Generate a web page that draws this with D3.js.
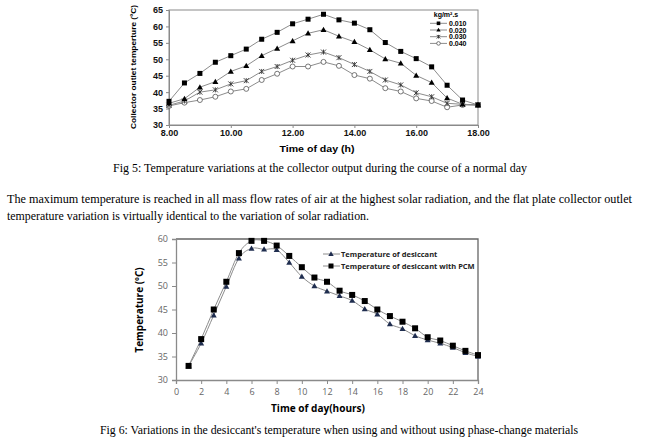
<!DOCTYPE html>
<html>
<head>
<meta charset="utf-8">
<script src="https://cdn.jsdelivr.net/npm/d3@7"></script>
<style>
  body { margin: 0; background: #fff; }
  svg { display: block; }
</style>
</head>
<body>
<div id="page"></div>
<script>
// fig 5 data: collector outlet temperature per mass flow rate
var times1 = [8, 8.5, 9, 9.5, 10, 10.5, 11, 11.5, 12, 12.5, 13, 13.5, 14, 14.5, 15, 15.5, 16, 16.5, 17, 17.5, 18];
var flowNames = ["0.010", "0.020", "0.030", "0.040"];
var flow010 = [37.2, 42.8, 45.7, 49.1, 51.1, 53.1, 56.1, 58.2, 60.8, 62.2, 63.7, 62.0, 61.0, 59.0, 55.1, 52.4, 50.2, 47.7, 42.1, 37.6, 36.1];
var flow020 = [36.6, 38.0, 41.5, 43.2, 46.3, 48.0, 51.1, 53.3, 55.6, 57.9, 59.0, 57.0, 55.3, 52.9, 50.1, 48.8, 45.1, 42.9, 38.2, 36.3, 36.1];
var flow030 = [36.0, 37.3, 40.0, 40.7, 42.5, 43.5, 46.3, 47.8, 49.7, 51.3, 52.2, 50.5, 48.4, 46.3, 43.7, 42.2, 39.8, 38.6, 36.6, 36.3, 36.1];
var flow040 = [35.8, 36.8, 37.6, 38.6, 40.2, 41.0, 43.7, 45.6, 47.8, 47.8, 49.2, 48.0, 45.2, 44.1, 41.2, 40.2, 38.1, 37.3, 35.4, 36.1, 36.1];
var yTicks1 = [30, 35, 40, 45, 50, 55, 60, 65];
var xTicks1 = [8, 10, 12, 14, 16, 18];

// fig 6 data: desiccant temperature with / without PCM
var hours2 = [1, 2, 3, 4, 5, 6, 7, 8, 9, 10, 11, 12, 13, 14, 15, 16, 17, 18, 19, 20, 21, 22, 23, 24];
var desiccant = [33.0, 37.8, 43.8, 49.9, 55.9, 58.0, 57.8, 57.7, 55.0, 52.0, 50.0, 48.9, 47.9, 46.9, 45.1, 44.0, 41.9, 40.9, 39.4, 38.5, 37.8, 36.9, 35.8, 35.0];
var desiccantPCM = [33.0, 38.7, 45.0, 50.9, 57.0, 59.6, 59.6, 58.6, 56.4, 54.0, 51.8, 50.9, 49.0, 48.1, 46.8, 45.0, 43.6, 42.4, 41.0, 39.1, 38.4, 37.3, 36.2, 35.3];
var seriesNames2 = ["Temperature of desiccant", "Temperature of desiccant with PCM"];
var yTicks2 = [30, 35, 40, 45, 50, 55, 60];
var xTicks2 = [0, 2, 4, 6, 8, 10, 12, 14, 16, 18, 20, 22, 24];

var W = 647, H = 441;
var svg = d3.select("#page").append("svg").attr("width", W).attr("height", H);
svg.append("rect").attr("width", W).attr("height", H).attr("fill", "#fff");

var serif = "'Liberation Serif', 'Times New Roman', serif";
var sans = "'Liberation Sans', Arial, sans-serif";
var calib = "'Open Sans', 'Noto Sans', sans-serif";

// ---------- fig 5 ----------
var x1 = d3.scaleLinear().domain([8, 18]).range([169, 478]);
var y1 = d3.scaleLinear().domain([30, 65]).range([125, 10]);
var g1 = svg.append("g");

g1.append("rect").attr("x", 169).attr("y", 10).attr("width", 309).attr("height", 115)
  .attr("fill", "none").attr("stroke", "#8a8a8a").attr("stroke-width", 1);

var ax1 = g1.append("g").attr("transform", "translate(0,125)")
  .call(d3.axisBottom(x1).tickValues(xTicks1).tickFormat(d3.format(".2f")).tickSize(3).tickPadding(2));
var ay1 = g1.append("g").attr("transform", "translate(169,0)")
  .call(d3.axisLeft(y1).tickValues(yTicks1).tickSize(3).tickPadding(3));
[ax1, ay1].forEach(function(a){
  a.select(".domain").attr("stroke", "#8a8a8a");
  a.selectAll(".tick line").attr("stroke", "#8a8a8a");
  a.selectAll("text").attr("font-family", sans).attr("font-weight", "bold").attr("font-size", 9).attr("fill", "#111");
});

g1.append("text").attr("x", 317).attr("y", 152).attr("text-anchor", "middle")
  .attr("font-family", sans).attr("font-weight", "bold").attr("font-size", 9)
  .attr("textLength", 75).attr("lengthAdjust", "spacingAndGlyphs").text("Time of day (h)");
g1.append("text").attr("transform", "translate(136,67) rotate(-90)").attr("text-anchor", "middle")
  .attr("font-family", sans).attr("font-weight", "bold").attr("font-size", 8)
  .attr("textLength", 124).attr("lengthAdjust", "spacingAndGlyphs")
  .text("Collector outlet temperture (ºC)");

var flows = [flow010, flow020, flow030, flow040];
var line1 = d3.line().x(function(d){return x1(d[0])}).y(function(d){return y1(d[1])});

function marker(sel, kind, size) {
  var s = size;
  if (kind == "square") {
    sel.append("rect").attr("x", -s/2).attr("y", -s/2).attr("width", s).attr("height", s).attr("fill", "#000");
  } else if (kind == "triangle") {
    sel.append("path").attr("d", "M0," + (-s*0.6) + "L" + (s*0.6) + "," + (s*0.45) + "L" + (-s*0.6) + "," + (s*0.45) + "Z").attr("fill", "#000");
  } else if (kind == "star") {
    sel.append("path").attr("d", "M" + (-s/2) + "," + (-s/2) + "L" + (s/2) + "," + (s/2) + "M" + (-s/2) + "," + (s/2) + "L" + (s/2) + "," + (-s/2) + "M0," + (-s/2) + "L0," + (s/2))
      .attr("stroke", "#333").attr("stroke-width", 0.9);
  } else if (kind == "circle") {
    sel.append("circle").attr("r", s/2).attr("fill", "#fff").attr("stroke", "#555").attr("stroke-width", 0.8);
  } else if (kind == "navytri") {
    sel.append("path").attr("d", "M0," + (-s*0.6) + "L" + (s*0.6) + "," + (s*0.45) + "L" + (-s*0.6) + "," + (s*0.45) + "Z").attr("fill", "#1f2d4f");
  }
}

var kinds1 = ["square", "triangle", "star", "circle"];
var sizes1 = [5, 5, 5, 5];
flows.forEach(function(vals, i){
  var pts = times1.map(function(t, j){return [t, vals[j]]});
  g1.append("path").datum(pts).attr("d", line1).attr("fill", "none").attr("stroke", "#8c8c8c").attr("stroke-width", 1);
});
// markers drawn after all lines (last series on top)
flows.slice().reverse().forEach(function(vals, r){
  var i = flows.length - 1 - r;
  times1.forEach(function(t, j){
    var m = g1.append("g").attr("transform", "translate(" + x1(t) + "," + y1(vals[j]) + ")");
    marker(m, kinds1[i], sizes1[i]);
  });
});

// legend fig 5
g1.append("text").attr("x", 446).attr("y", 17).attr("text-anchor", "middle")
  .attr("font-family", sans).attr("font-weight", "bold").attr("font-size", 7).text("kg/m².s");
flowNames.forEach(function(n, i){
  var ly = 23.3 + i * 6.7;
  g1.append("line").attr("x1", 430).attr("x2", 447).attr("y1", ly).attr("y2", ly).attr("stroke", "#8c8c8c");
  var m = g1.append("g").attr("transform", "translate(438.5," + ly + ")");
  marker(m, kinds1[i], 3.6);
  g1.append("text").attr("x", 449).attr("y", ly + 2.5).attr("font-family", sans).attr("font-weight", "bold")
    .attr("font-size", 7).text(n);
});

// captions / paragraph
svg.append("text").attr("x", 113).attr("y", 172).attr("font-family", serif).attr("font-size", 11.5)
  .attr("textLength", 414).attr("lengthAdjust", "spacingAndGlyphs")
  .text("Fig 5:  Temperature variations at the collector output during the course of a normal day");
svg.append("text").attr("x", 7).attr("y", 203).attr("font-family", serif).attr("font-size", 11.5)
  .attr("textLength", 625).attr("lengthAdjust", "spacingAndGlyphs")
  .text("The maximum temperature is reached in all mass flow rates of air at the highest solar radiation, and the flat plate collector outlet");
svg.append("text").attr("x", 7).attr("y", 220).attr("font-family", serif).attr("font-size", 11.5)
  .attr("textLength", 362).attr("lengthAdjust", "spacingAndGlyphs")
  .text("temperature variation is virtually identical to the variation of solar radiation.");

// ---------- fig 6 ----------
var x2 = d3.scaleLinear().domain([0, 24]).range([176, 478]);
var y2 = d3.scaleLinear().domain([30, 60]).range([380, 239]);
var g2 = svg.append("g");

g2.append("path").attr("d", "M176,239H478V380").attr("fill", "none").attr("stroke", "#666").attr("stroke-width", 1.3);

var ax2 = g2.append("g").attr("transform", "translate(0,380)")
  .call(d3.axisBottom(x2).tickValues(xTicks2).tickSize(4).tickPadding(5));
var ay2 = g2.append("g").attr("transform", "translate(176,0)")
  .call(d3.axisLeft(y2).tickValues(yTicks2).tickSize(4).tickPadding(4));
[ax2, ay2].forEach(function(a){
  a.select(".domain").attr("stroke", "#8a8a8a").attr("stroke-width", 1.3);
  a.selectAll(".tick line").attr("stroke", "#8a8a8a");
  a.selectAll("text").attr("font-family", calib).attr("font-size", 9).attr("fill", "#666");
});

g2.append("text").attr("x", 318).attr("y", 412).attr("text-anchor", "middle")
  .attr("font-family", calib).attr("font-weight", "bold").attr("font-size", 10)
  .attr("textLength", 94).attr("lengthAdjust", "spacingAndGlyphs").text("Time of day(hours)");
g2.append("text").attr("transform", "translate(143,310) rotate(-90)").attr("text-anchor", "middle")
  .attr("font-family", calib).attr("font-weight", "bold").attr("font-size", 10).text("Temperature (ºC)");

var line2 = d3.line().curve(d3.curveCatmullRom.alpha(0))
  .x(function(d){return x2(d[0])}).y(function(d){return y2(d[1])});
var series2 = [desiccant, desiccantPCM];
var kinds2 = ["navytri", "square"];
var sizes2 = [5, 6];
series2.forEach(function(vals){
  var pts = hours2.map(function(h, j){return [h, vals[j]]});
  g2.append("path").datum(pts).attr("d", line2).attr("fill", "none").attr("stroke", "#8c8c8c").attr("stroke-width", 1);
});
series2.forEach(function(vals, i){
  hours2.forEach(function(h, j){
    var m = g2.append("g").attr("transform", "translate(" + x2(h) + "," + y2(vals[j]) + ")");
    marker(m, kinds2[i], sizes2[i]);
  });
});

// legend fig 6
seriesNames2.forEach(function(n, i){
  var ly = 254 + i * 12;
  g2.append("line").attr("x1", 323).attr("x2", 340).attr("y1", ly).attr("y2", ly).attr("stroke", "#8c8c8c");
  var m = g2.append("g").attr("transform", "translate(331," + ly + ")");
  marker(m, kinds2[i], i == 0 ? 4.5 : 5);
  g2.append("text").attr("x", 341).attr("y", ly + 2.8).attr("font-family", calib)
    .attr("font-weight", "bold").attr("font-size", 7.5).attr("fill", "#222").text(n);
});

svg.append("text").attr("x", 100).attr("y", 434).attr("font-family", serif).attr("font-size", 11.5)
  .attr("textLength", 478).attr("lengthAdjust", "spacingAndGlyphs")
  .text("Fig 6:  Variations in the desiccant's temperature when using and without using phase-change materials");
</script>
</body>
</html>
